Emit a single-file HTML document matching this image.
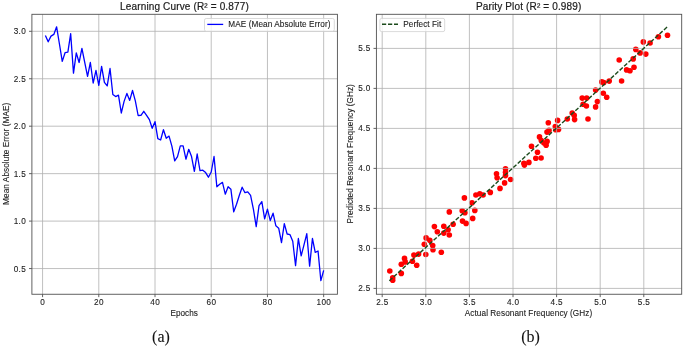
<!DOCTYPE html><html><head><meta charset="utf-8"><title>Learning curve and parity plot</title><style>
html,body{margin:0;padding:0;background:#fff;}
body{width:685px;height:347px;overflow:hidden;}
svg{display:block;font-family:"Liberation Sans",sans-serif;filter:blur(0.3px);}
.t{font-size:8.2px;fill:#262626;}
text{stroke:currentColor;stroke-width:0.1px;color:#222;}
text.tt{stroke-width:0.2px;}
</style></head><body>
<svg width="685" height="347" viewBox="0 0 685 347">
<rect width="685" height="347" fill="#fff"/>
<path d="M42.57 14.3V294.25M98.79 14.3V294.25M155.01 14.3V294.25M211.23 14.3V294.25M267.45 14.3V294.25M323.67 14.3V294.25M31.9 268.55H337.4M31.9 221.1H337.4M31.9 173.65H337.4M31.9 126.2H337.4M31.9 78.75H337.4M31.9 31.3H337.4" stroke="#b0b0b0" stroke-width="0.8" fill="none"/>
<polyline points="45.38,35.4 48.19,41.8 51,36.1 53.81,34.4 56.62,26.8 59.44,44 62.25,61.4 65.06,52.7 67.87,52.2 70.68,33.7 73.49,73.1 76.3,52.9 79.11,62.5 81.92,48.3 84.73,62.3 87.55,76.4 90.36,62.5 93.17,83 95.98,70.3 98.79,85.4 101.6,66.3 104.41,82.4 107.22,85.9 110.03,68.5 112.84,94.5 115.66,96.6 118.47,95.2 121.28,113 124.09,101.4 126.9,93.4 129.71,100.4 132.52,90.5 135.33,100.9 138.14,115.5 140.95,115.3 143.77,111.3 146.58,115.3 149.39,119.6 152.2,128.3 155.01,121.7 157.82,138.7 160.63,140 163.44,129.7 166.25,138.3 169.06,136.1 171.88,146.2 174.69,160.9 177.5,156.6 180.31,145.8 183.12,145.8 185.93,159.2 188.74,149.3 191.55,156.6 194.36,171.3 197.17,154 199.99,170.6 202.8,170.2 205.61,172.6 208.42,177.2 211.23,172 214.04,156.5 216.85,186.8 219.66,184.2 222.47,182.4 225.28,194.2 228.1,186.7 230.91,189.3 233.72,211.8 236.53,204.3 239.34,195.3 242.15,187.2 244.96,192.7 247.77,191.8 250.58,195.3 253.39,209.2 256.21,226.6 259.02,205.7 261.83,201.6 264.64,218.8 267.45,209.2 270.26,220.6 273.07,213.2 275.88,225.8 278.69,228.2 281.5,242.6 284.32,223.6 287.13,234 289.94,234.6 292.75,241.2 295.56,265.7 298.37,238.5 301.18,255.8 303.99,244.9 306.8,233.7 309.62,266.2 312.43,238.5 315.24,252.3 318.05,251 320.86,280.7 323.67,270.3" fill="none" stroke="#0000ff" stroke-width="1.3" stroke-linejoin="round" stroke-linecap="butt"/>
<g fill="#ff0000" fill-opacity="1">
<circle cx="389.8" cy="271" r="2.8"/>
<circle cx="392.7" cy="277.8" r="2.8"/>
<circle cx="392.7" cy="280.3" r="2.8"/>
<circle cx="401.3" cy="273.4" r="2.8"/>
<circle cx="401.3" cy="264.2" r="2.8"/>
<circle cx="404.5" cy="258.4" r="2.8"/>
<circle cx="405.2" cy="261.9" r="2.8"/>
<circle cx="412.4" cy="261.3" r="2.8"/>
<circle cx="413.9" cy="255.1" r="2.8"/>
<circle cx="416.7" cy="265.2" r="2.8"/>
<circle cx="418.6" cy="254.1" r="2.8"/>
<circle cx="425.8" cy="254.5" r="2.8"/>
<circle cx="424.3" cy="244.3" r="2.8"/>
<circle cx="426.1" cy="237.9" r="2.8"/>
<circle cx="429.8" cy="240.3" r="2.8"/>
<circle cx="432.7" cy="245.6" r="2.8"/>
<circle cx="433" cy="249.7" r="2.8"/>
<circle cx="441.3" cy="252.3" r="2.8"/>
<circle cx="434.4" cy="226.6" r="2.8"/>
<circle cx="437.3" cy="231.7" r="2.8"/>
<circle cx="443.8" cy="226.3" r="2.8"/>
<circle cx="443.8" cy="233.1" r="2.8"/>
<circle cx="448.1" cy="229.8" r="2.8"/>
<circle cx="449.3" cy="235" r="2.8"/>
<circle cx="453.1" cy="224.3" r="2.8"/>
<circle cx="449.3" cy="211.9" r="2.8"/>
<circle cx="462.2" cy="210.7" r="2.8"/>
<circle cx="464.9" cy="212.8" r="2.8"/>
<circle cx="462.5" cy="221.1" r="2.8"/>
<circle cx="466.1" cy="223.4" r="2.8"/>
<circle cx="474.8" cy="210.4" r="2.8"/>
<circle cx="464.4" cy="197.9" r="2.8"/>
<circle cx="472" cy="202.7" r="2.8"/>
<circle cx="475.9" cy="195" r="2.8"/>
<circle cx="479.8" cy="193.8" r="2.8"/>
<circle cx="483.1" cy="195" r="2.8"/>
<circle cx="490.3" cy="192.4" r="2.8"/>
<circle cx="496.5" cy="173.8" r="2.8"/>
<circle cx="497.1" cy="177.8" r="2.8"/>
<circle cx="500" cy="188.4" r="2.8"/>
<circle cx="472.7" cy="218.4" r="2.8"/>
<circle cx="505.5" cy="168.7" r="2.8"/>
<circle cx="505.5" cy="172.2" r="2.8"/>
<circle cx="505.5" cy="175.6" r="2.8"/>
<circle cx="504.6" cy="182.9" r="2.8"/>
<circle cx="510.6" cy="179.5" r="2.8"/>
<circle cx="523.9" cy="163.3" r="2.8"/>
<circle cx="524.4" cy="165.1" r="2.8"/>
<circle cx="528.9" cy="162.4" r="2.8"/>
<circle cx="531.5" cy="146.3" r="2.8"/>
<circle cx="535.8" cy="158.3" r="2.8"/>
<circle cx="541.1" cy="158" r="2.8"/>
<circle cx="537.5" cy="152.2" r="2.8"/>
<circle cx="539.5" cy="136.9" r="2.8"/>
<circle cx="541.3" cy="140.6" r="2.8"/>
<circle cx="543.9" cy="143" r="2.8"/>
<circle cx="547.1" cy="141.4" r="2.8"/>
<circle cx="546.1" cy="145.3" r="2.8"/>
<circle cx="548.3" cy="122.8" r="2.8"/>
<circle cx="547" cy="132.1" r="2.8"/>
<circle cx="549" cy="130.4" r="2.8"/>
<circle cx="557.6" cy="120.4" r="2.8"/>
<circle cx="555.3" cy="126.6" r="2.8"/>
<circle cx="558.5" cy="129.4" r="2.8"/>
<circle cx="555.8" cy="129.7" r="2.8"/>
<circle cx="567.3" cy="119" r="2.8"/>
<circle cx="572.2" cy="113" r="2.8"/>
<circle cx="574.2" cy="115.4" r="2.8"/>
<circle cx="574.6" cy="119.6" r="2.8"/>
<circle cx="588" cy="119" r="2.8"/>
<circle cx="582.2" cy="98.1" r="2.8"/>
<circle cx="586.7" cy="98.1" r="2.8"/>
<circle cx="583.1" cy="104.3" r="2.8"/>
<circle cx="586.4" cy="106" r="2.8"/>
<circle cx="595.6" cy="90.1" r="2.8"/>
<circle cx="597.4" cy="101.6" r="2.8"/>
<circle cx="595.6" cy="106.9" r="2.8"/>
<circle cx="603.3" cy="93.2" r="2.8"/>
<circle cx="606.7" cy="97.3" r="2.8"/>
<circle cx="601.8" cy="81.9" r="2.8"/>
<circle cx="603.8" cy="82.6" r="2.8"/>
<circle cx="609.2" cy="81.1" r="2.8"/>
<circle cx="621.6" cy="81" r="2.8"/>
<circle cx="619.2" cy="60" r="2.8"/>
<circle cx="626.6" cy="69.9" r="2.8"/>
<circle cx="630" cy="70.8" r="2.8"/>
<circle cx="634" cy="67.3" r="2.8"/>
<circle cx="633.2" cy="58.9" r="2.8"/>
<circle cx="635.8" cy="49.4" r="2.8"/>
<circle cx="640.1" cy="52.9" r="2.8"/>
<circle cx="645.8" cy="54.1" r="2.8"/>
<circle cx="643.3" cy="41.9" r="2.8"/>
<circle cx="650.1" cy="43" r="2.8"/>
<circle cx="658.4" cy="36.7" r="2.8"/>
<circle cx="667.5" cy="35.2" r="2.8"/>
</g>
<path d="M382.2 14.3V294.25M376.4 288.4H681.7M425.8 14.3V294.25M376.4 248.4H681.7M469.4 14.3V294.25M376.4 208.4H681.7M513 14.3V294.25M376.4 168.4H681.7M556.6 14.3V294.25M376.4 128.4H681.7M600.2 14.3V294.25M376.4 88.4H681.7M643.8 14.3V294.25M376.4 48.4H681.7" stroke="#b0b0b0" stroke-width="0.8" stroke-opacity="1" fill="none"/>
<path d="M389.3 280.8L668.0 26.2" stroke="#1b4a1b" stroke-width="1.4" stroke-dasharray="4.2 1.8" fill="none"/>
<path d="M42.57 294.25v2.9M98.79 294.25v2.9M155.01 294.25v2.9M211.23 294.25v2.9M267.45 294.25v2.9M323.67 294.25v2.9M31.9 268.55h-2.9M31.9 221.1h-2.9M31.9 173.65h-2.9M31.9 126.2h-2.9M31.9 78.75h-2.9M31.9 31.3h-2.9M382.2 294.25v2.9M376.4 288.4h-2.9M425.8 294.25v2.9M376.4 248.4h-2.9M469.4 294.25v2.9M376.4 208.4h-2.9M513 294.25v2.9M376.4 168.4h-2.9M556.6 294.25v2.9M376.4 128.4h-2.9M600.2 294.25v2.9M376.4 88.4h-2.9M643.8 294.25v2.9M376.4 48.4h-2.9" stroke="#505050" stroke-width="0.9" fill="none"/>
<rect x="31.9" y="14.3" width="305.5" height="279.95" fill="none" stroke="#505050" stroke-width="0.9"/>
<rect x="376.4" y="14.3" width="305.3" height="279.95" fill="none" stroke="#505050" stroke-width="0.9"/>
<text x="42.57" y="304.6" text-anchor="middle" font-size="8.2" fill="#1a1a1a" textLength="4.84" lengthAdjust="spacing">0</text>
<text x="98.79" y="304.6" text-anchor="middle" font-size="8.2" fill="#1a1a1a" textLength="9.67" lengthAdjust="spacing">20</text>
<text x="155.01" y="304.6" text-anchor="middle" font-size="8.2" fill="#1a1a1a" textLength="9.67" lengthAdjust="spacing">40</text>
<text x="211.23" y="304.6" text-anchor="middle" font-size="8.2" fill="#1a1a1a" textLength="9.67" lengthAdjust="spacing">60</text>
<text x="267.45" y="304.6" text-anchor="middle" font-size="8.2" fill="#1a1a1a" textLength="9.67" lengthAdjust="spacing">80</text>
<text x="323.67" y="304.6" text-anchor="middle" font-size="8.2" fill="#1a1a1a" textLength="14.51" lengthAdjust="spacing">100</text>
<text x="25.8" y="271.55" text-anchor="end" font-size="8.2" fill="#1a1a1a" textLength="12.09" lengthAdjust="spacing">0.5</text>
<text x="25.8" y="224.1" text-anchor="end" font-size="8.2" fill="#1a1a1a" textLength="12.09" lengthAdjust="spacing">1.0</text>
<text x="25.8" y="176.65" text-anchor="end" font-size="8.2" fill="#1a1a1a" textLength="12.09" lengthAdjust="spacing">1.5</text>
<text x="25.8" y="129.2" text-anchor="end" font-size="8.2" fill="#1a1a1a" textLength="12.09" lengthAdjust="spacing">2.0</text>
<text x="25.8" y="81.75" text-anchor="end" font-size="8.2" fill="#1a1a1a" textLength="12.09" lengthAdjust="spacing">2.5</text>
<text x="25.8" y="34.3" text-anchor="end" font-size="8.2" fill="#1a1a1a" textLength="12.09" lengthAdjust="spacing">3.0</text>
<text x="382.2" y="304.6" text-anchor="middle" font-size="8.2" fill="#1a1a1a" textLength="12.09" lengthAdjust="spacing">2.5</text>
<text x="370.3" y="291.4" text-anchor="end" font-size="8.2" fill="#1a1a1a" textLength="12.09" lengthAdjust="spacing">2.5</text>
<text x="425.8" y="304.6" text-anchor="middle" font-size="8.2" fill="#1a1a1a" textLength="12.09" lengthAdjust="spacing">3.0</text>
<text x="370.3" y="251.4" text-anchor="end" font-size="8.2" fill="#1a1a1a" textLength="12.09" lengthAdjust="spacing">3.0</text>
<text x="469.4" y="304.6" text-anchor="middle" font-size="8.2" fill="#1a1a1a" textLength="12.09" lengthAdjust="spacing">3.5</text>
<text x="370.3" y="211.4" text-anchor="end" font-size="8.2" fill="#1a1a1a" textLength="12.09" lengthAdjust="spacing">3.5</text>
<text x="513" y="304.6" text-anchor="middle" font-size="8.2" fill="#1a1a1a" textLength="12.09" lengthAdjust="spacing">4.0</text>
<text x="370.3" y="171.4" text-anchor="end" font-size="8.2" fill="#1a1a1a" textLength="12.09" lengthAdjust="spacing">4.0</text>
<text x="556.6" y="304.6" text-anchor="middle" font-size="8.2" fill="#1a1a1a" textLength="12.09" lengthAdjust="spacing">4.5</text>
<text x="370.3" y="131.4" text-anchor="end" font-size="8.2" fill="#1a1a1a" textLength="12.09" lengthAdjust="spacing">4.5</text>
<text x="600.2" y="304.6" text-anchor="middle" font-size="8.2" fill="#1a1a1a" textLength="12.09" lengthAdjust="spacing">5.0</text>
<text x="370.3" y="91.4" text-anchor="end" font-size="8.2" fill="#1a1a1a" textLength="12.09" lengthAdjust="spacing">5.0</text>
<text x="643.8" y="304.6" text-anchor="middle" font-size="8.2" fill="#1a1a1a" textLength="12.09" lengthAdjust="spacing">5.5</text>
<text x="370.3" y="51.4" text-anchor="end" font-size="8.2" fill="#1a1a1a" textLength="12.09" lengthAdjust="spacing">5.5</text>
<text class="tt" x="184.4" y="9.6" text-anchor="middle" font-size="10" fill="#1a1a1a" textLength="128.67" lengthAdjust="spacing">Learning Curve (R² = 0.877)</text>
<text class="tt" x="528.6" y="9.6" text-anchor="middle" font-size="10" fill="#1a1a1a" textLength="105.35" lengthAdjust="spacing">Parity Plot (R² = 0.989)</text>
<text x="184.2" y="315.8" text-anchor="middle" font-size="8.2" fill="#1a1a1a" textLength="27.23" lengthAdjust="spacing">Epochs</text>
<text x="528.5" y="315.8" text-anchor="middle" font-size="8.2" fill="#1a1a1a" textLength="127.34" lengthAdjust="spacing">Actual Resonant Frequency (GHz)</text>
<text transform="translate(9.2 153.8) rotate(-90)" text-anchor="middle" font-size="8.2" fill="#1a1a1a" textLength="102.18" lengthAdjust="spacing">Mean Absolute Error (MAE)</text>
<text transform="translate(353.3 153.8) rotate(-90)" text-anchor="middle" font-size="8.2" fill="#1a1a1a" textLength="139.21" lengthAdjust="spacing">Predicted Resonant Frequency (GHz)</text>
<rect x="204.5" y="18.5" width="129.8" height="12.8" rx="1.7" fill="#fff" fill-opacity="0.8" stroke="#d0d0d0" stroke-width="0.8"/>
<path d="M207.3 24.4H223.2" stroke="#0000ff" stroke-width="1.3"/>
<text x="228.3" y="27" text-anchor="start" font-size="8.2" fill="#1a1a1a" textLength="102.18" lengthAdjust="spacing">MAE (Mean Absolute Error)</text>
<rect x="379.9" y="18.4" width="64.8" height="13.2" rx="1.7" fill="#fff" fill-opacity="0.8" stroke="#d0d0d0" stroke-width="0.8"/>
<path d="M382 24.2H398" stroke="#1b4a1b" stroke-width="1.4" stroke-dasharray="4.2 1.8"/>
<text x="403.3" y="27" text-anchor="start" font-size="8.2" fill="#1a1a1a" textLength="37.95" lengthAdjust="spacing">Perfect Fit</text>
<text x="161" y="341.5" text-anchor="middle" font-family="Liberation Serif, serif" font-size="16" fill="#111">(a)</text>
<text x="530.5" y="341.5" text-anchor="middle" font-family="Liberation Serif, serif" font-size="16" fill="#111">(b)</text>
</svg></body></html>
